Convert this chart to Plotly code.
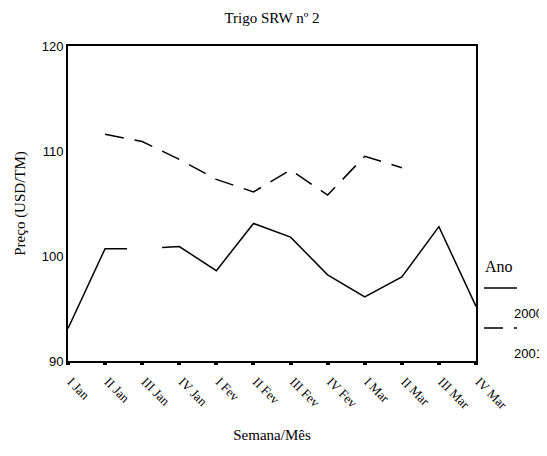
import plotly.graph_objects as go

# weekly wheat prices, SRW no. 2
weeks = ["I Jan", "II Jan", "III Jan", "IV Jan", "I Fev", "II Fev",
         "III Fev", "IV Fev", "I Mar", "II Mar", "III Mar", "IV Mar"]
price_2000 = [93.1, 100.7, 100.7, 100.9, 98.6, 103.1, 101.8, 98.2, 96.1, 98.0, 102.8, 95.2]
price_2001 = [None, 111.6, 110.9, 109.2, 107.3, 106.1, 108.2, 105.8, 109.5, 108.4, None, None]
years = ["2000", "2001"]

SERIF = "Liberation Serif"
SANS = "Liberation Sans"

# the page body adds an 8px margin, so work in figure pixels shifted by 8
OFF = 8
W, H = 547 - OFF, 456 - OFF
L, R, T, B = 68 - OFF, 476 - OFF, 45.5 - OFF, 361 - OFF


def px(x):
    # screen pixel -> paper coordinate
    return (x - OFF - L) / (R - L)


def py(y):
    return (B - (y - OFF)) / (B - T)


fig = go.Figure()
fig.add_trace(go.Scatter(x=weeks, y=price_2000, mode="lines", name=years[0],
                         line=dict(color="black", width=1.5, dash="110px,35px,3000px")))
fig.add_trace(go.Scatter(x=weeks, y=price_2001, mode="lines", name=years[1],
                         connectgaps=False,
                         line=dict(color="black", width=1.5, dash="19px,11px")))

# legend drawn by hand: title, line sample, label under it
shapes = [
    dict(type="line", xref="paper", yref="paper", x0=px(484), x1=px(517), y0=py(288), y1=py(288),
         line=dict(color="black", width=1.5)),
    dict(type="line", xref="paper", yref="paper", x0=px(484), x1=px(517), y0=py(328), y1=py(328),
         line=dict(color="black", width=1.5, dash="19px,11px")),
]
annotations = [
    dict(text="Ano", xref="paper", yref="paper", x=px(483), y=py(266), xanchor="left", yanchor="middle",
         showarrow=False, font=dict(family=SERIF, size=16, color="black")),
    dict(text=years[0], xref="paper", yref="paper", x=px(512), y=py(313), xanchor="left", yanchor="middle",
         showarrow=False, font=dict(family=SANS, size=13, color="black")),
    dict(text=years[1], xref="paper", yref="paper", x=px(512), y=py(353), xanchor="left", yanchor="middle",
         showarrow=False, font=dict(family=SANS, size=13, color="black")),
]

fig.update_layout(
    width=W, height=H,
    margin=dict(l=L, r=W - R, t=T, b=H - B, pad=0, autoexpand=False),
    paper_bgcolor="white", plot_bgcolor="white",
    showlegend=False,
    title=dict(text="Trigo SRW nº 2", x=(L + R) / 2 / W, xanchor="center", y=1 - (18 - OFF) / H,
               yanchor="middle", font=dict(family=SERIF, size=15, color="black")),
    xaxis=dict(
        type="category", range=[0, 11], automargin=False,
        showgrid=False, zeroline=False,
        showline=True, linecolor="black", linewidth=2, mirror=True,
        ticks="outside", ticklen=2, tickwidth=4, tickcolor="black",
        tickangle=45, tickfont=dict(family=SERIF, size=13, color="black"),
        ticklabelstandoff=4, ticklabelshift=3,
        title=dict(text="Semana/Mês", font=dict(family=SERIF, size=15, color="black"), standoff=18),
    ),
    yaxis=dict(
        range=[90, 120], tickvals=[90, 100, 110, 120], automargin=False,
        showgrid=False, zeroline=False,
        showline=True, linecolor="black", linewidth=2, mirror=True,
        ticks="", tickfont=dict(family=SANS, size=13, color="black"),
        title=dict(text="Preço (USD/TM)", font=dict(family=SERIF, size=15, color="black"), standoff=12),
    ),
    shapes=shapes,
    annotations=annotations,
)

fig.write_html("out.html")
